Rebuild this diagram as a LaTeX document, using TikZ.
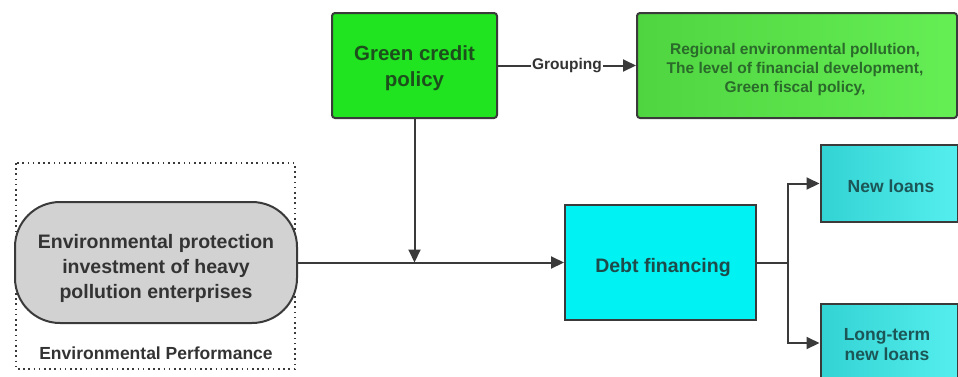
\documentclass[tikz,border=0pt]{standalone}
\usepackage{fontspec}
\setmainfont{Liberation Sans}
\usetikzlibrary{arrows.meta}
\definecolor{lineg}{HTML}{3A3A3A}
\definecolor{gcpfill}{HTML}{1FE41F}
\definecolor{gcptext}{HTML}{1C4F1C}
\definecolor{rgleft}{HTML}{4FD540}
\definecolor{rgright}{HTML}{66EE55}
\definecolor{rgtext}{HTML}{2A6A2A}
\definecolor{grayfill}{HTML}{D2D2D2}
\definecolor{graytext}{HTML}{333333}
\definecolor{debtfill}{HTML}{00F2F2}
\definecolor{debttext}{HTML}{1E4A4A}
\definecolor{cyleft}{HTML}{33D3D3}
\definecolor{cyright}{HTML}{55EEEE}
\definecolor{cytext}{HTML}{1C5656}
\tikzset{
  x=1pt, y=-1pt,
  box/.style={draw=lineg, line width=2pt, align=center, font=\bfseries, inner sep=2pt},
  txt/.style={align=center, font=\bfseries},
  conn/.style={draw=lineg, line width=2pt},
  arr/.style={conn, -{Triangle[length=13pt,width=12pt]}},
}
\begin{document}
\begin{tikzpicture}
\useasboundingbox (0,0) rectangle (958,376);
\begin{scope}
\clip (0,0) rectangle (958,376);
% dotted frame
\draw[lineg, line width=1.6pt, dash pattern=on 1.6pt off 3.6pt] (16,163) rectangle (295,369);
% nodes
\node[box, fill=gcpfill, rounded corners=3pt, minimum width=165pt, minimum height=105pt] (gcp) at (414.5,65.5) {};
\node[txt, text=gcptext, font=\bfseries\fontsize{20.5}{26}\selectfont] (gcpt) at (414.5,68) {Green credit\\policy};
\node[box, left color=rgleft, right color=rgright, rounded corners=3pt,
      minimum width=320pt, minimum height=105pt] (reg) at (797,65.5) {};
\node[txt, text=rgtext, font=\bfseries\fontsize{15.5}{19}\selectfont] (regt) at (795,69)
      {Regional environmental pollution,\\The level of financial development,\\Green fiscal policy,};
\node[box, fill=grayfill, rounded corners=45pt, minimum width=282pt, minimum height=121pt] (env) at (156,262.5) {};
\node[txt, text=graytext, font=\bfseries\fontsize{19.5}{25}\selectfont] (envt) at (156,268)
      {Environmental protection\\investment of heavy\\pollution enterprises};
\node[txt, font=\bfseries\fontsize{17.5}{21}\selectfont, text=graytext] (perf) at (156,353) {Environmental Performance};
\node[box, fill=debtfill, minimum width=191pt, minimum height=115pt] (debt) at (660.5,262.5) {};
\node[txt, text=debttext, font=\bfseries\fontsize{19.5}{24}\selectfont] (debtt) at (663,267) {Debt financing};
\node[box, left color=cyleft, right color=cyright, minimum width=137pt, minimum height=77pt] (nl) at (889,183.5) {};
\node[txt, text=cytext, font=\bfseries\fontsize{17.5}{21}\selectfont] (nlt) at (891,186) {New loans};
\node[box, left color=cyleft, right color=cyright, minimum width=137pt, minimum height=78pt] (ltbox) at (889,343) {};
\node[txt, font=\bfseries\fontsize{17.5}{20}\selectfont, text=cytext] (lt) at (887,345) {Long-term\\new loans};
% connectors
\draw[arr] (gcp.east) -- node[fill=white, inner sep=1pt, text=graytext, font=\bfseries\fontsize{15.5}{18}\selectfont] (grp) {Grouping} (reg.west);
\coordinate (join) at (gcp.south |- env.east);
\draw[arr] (env.east) -- (debt.west);
\draw[arr] (gcp.south) -- (join);
\coordinate (split) at (788,262.5);
\draw[conn] (debt.east) -- (split);
\draw[arr] (split) |- (nl.west);
\draw[arr] (split) |- (ltbox.west);
\end{scope}
\end{tikzpicture}
\end{document}
